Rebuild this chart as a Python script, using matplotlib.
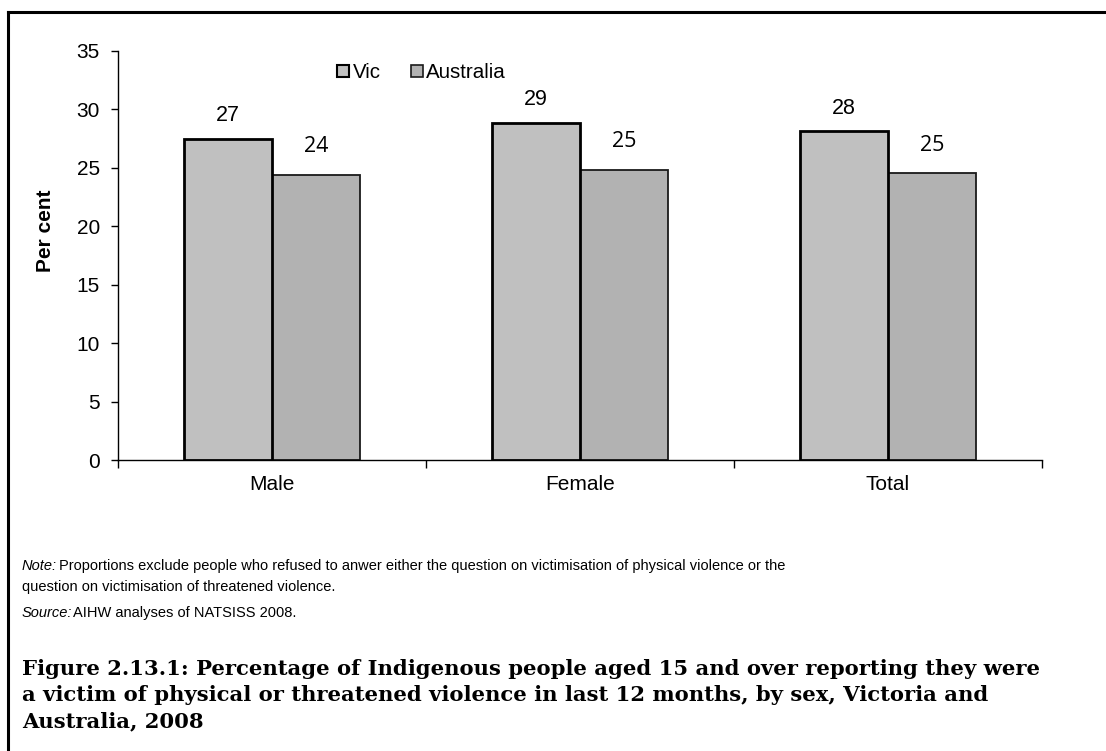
import matplotlib
matplotlib.use("Agg")
import matplotlib.pyplot as plt
import numpy as np
from matplotlib.lines import Line2D
from matplotlib.ticker import FixedLocator

categories = ["Male", "Female", "Total"]
vic = [27.47, 28.84, 28.15]
aus = [24.39, 24.82, 24.53]
vic_labels = ["27", "29", "28"]
aus_labels = ["24", "25", "25"]
series_names = ["Vic", "Australia"]
yticks = [0, 5, 10, 15, 20, 25, 30, 35]

W, H = 1106, 751
fig = plt.figure(figsize=(W / 100, H / 100), dpi=100)
plt.rcParams['font.family'] = ['Liberation Sans', 'DejaVu Sans']

ax = fig.add_axes([118 / W, 1 - 460 / H, (1042 - 118) / W, (460 - 51) / H])
x = np.arange(len(categories))
bw = 0.286
ax.bar(x - bw / 2, vic, width=bw, color="#C0C0C0", edgecolor="black", linewidth=2.0, zorder=3)
ax.bar(x + bw / 2, aus, width=bw, color="#B2B2B2", edgecolor="#1a1a1a", linewidth=1.3, zorder=2)

for xi, v, lab in zip(x, vic, vic_labels):
    ax.annotate(lab, (xi - bw / 2, v), xytext=(0, 23), textcoords="offset pixels",
                ha="center", va="center", fontsize=15.5, family="Liberation Sans")
for xi, v, lab in zip(x, aus, aus_labels):
    ax.annotate(lab, (xi + bw / 2, v), xytext=(0, 28), textcoords="offset pixels",
                ha="center", va="center", fontsize=15.5, family="Open Sans")

ax.set_xlim(-0.5, len(categories) - 0.5)
ax.set_ylim(0, 35)
ax.set_yticks(yticks)
ax.set_yticklabels([str(t) for t in yticks], fontsize=15)
ax.set_xticks(x)
ax.set_xticklabels(categories, fontsize=15)
ax.xaxis.set_minor_locator(FixedLocator(np.arange(-0.5, len(categories), 1.0)))
ax.tick_params(axis="x", which="major", length=0, pad=11)
ax.tick_params(axis="x", which="minor", length=6, direction="out", width=1)
ax.tick_params(axis="y", length=5, direction="out", width=1, pad=8)
for s in ["top", "right"]:
    ax.spines[s].set_visible(False)
ax.spines["left"].set_linewidth(1)
ax.spines["bottom"].set_linewidth(1)
ax.set_ylabel("Per cent", fontsize=15, fontweight="bold")
ax.yaxis.set_label_coords(-(118 - 55) / (1042 - 118), 1 - (231 - 51) / (460 - 51))

handles = [
    Line2D([], [], marker="s", linestyle="none", markersize=8.5, markerfacecolor="#C0C0C0",
           markeredgecolor="black", markeredgewidth=1.5),
    Line2D([], [], marker="s", linestyle="none", markersize=8.5, markerfacecolor="#B2B2B2",
           markeredgecolor="#1a1a1a", markeredgewidth=1.2),
]
leg = fig.legend(handles, series_names, loc="center left", bbox_to_anchor=(327 / W, 1 - 73 / H),
                 ncol=2, frameon=False, fontsize=14.8, handlelength=0.6, handletextpad=0.15,
                 columnspacing=1.45, borderpad=0)

# frame (top and left only)
fig.add_artist(Line2D([8 / W, 1.0], [1 - 12 / H, 1 - 12 / H], color="black", linewidth=2.2,
                      transform=fig.transFigure))
fig.add_artist(Line2D([8 / W, 8 / W], [1 - 12 / H, 0.0], color="black", linewidth=2.2,
                      transform=fig.transFigure))

fs_note = 10.5
fig.text(22 / W, 1 - 566 / H, "Note:", fontsize=fs_note, style="italic", va="center")
fig.text(59 / W, 1 - 566 / H,
         "Proportions exclude people who refused to anwer either the question on victimisation of physical violence or the",
         fontsize=fs_note, va="center")
fig.text(22 / W, 1 - 587 / H, "question on victimisation of threatened violence.", fontsize=fs_note, va="center")
fig.text(22 / W, 1 - 613 / H, "Source:", fontsize=fs_note, style="italic", va="center")
fig.text(73 / W, 1 - 613 / H, "AIHW analyses of NATSISS 2008.", fontsize=fs_note, va="center")

title_lines = [
    "Figure 2.13.1: Percentage of Indigenous people aged 15 and over reporting they were",
    "a victim of physical or threatened violence in last 12 months, by sex, Victoria and",
    "Australia, 2008",
]
for i, line in enumerate(title_lines):
    fig.text(22 / W, 1 - (669 + 26 * i) / H, line, fontsize=15.2, fontweight="bold",
             family="DejaVu Serif", va="center")

fig.savefig("out.png", dpi=100)
